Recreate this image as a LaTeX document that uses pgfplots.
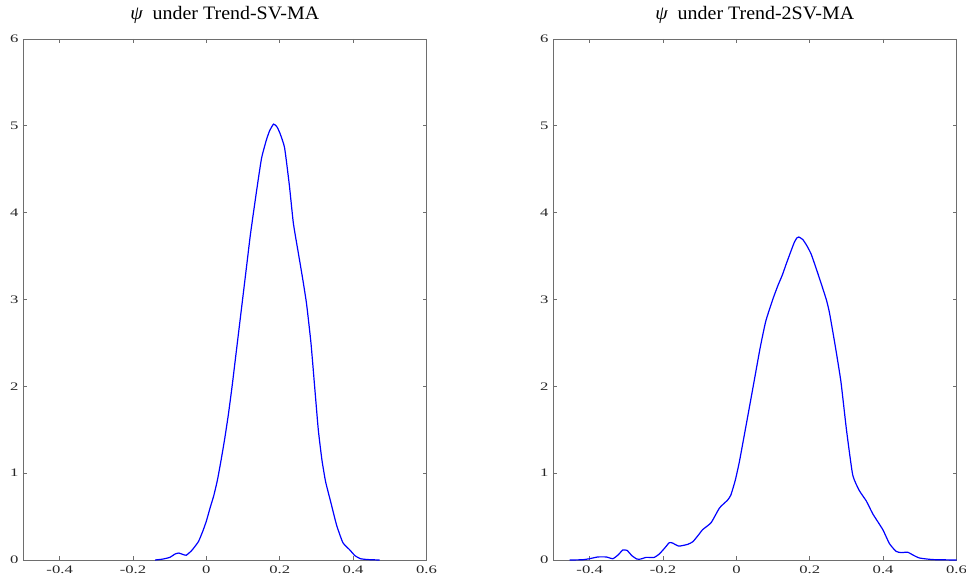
\documentclass[border=0pt]{standalone}
\usepackage{fontspec}
\setmainfont{Liberation Serif}
\newfontfamily\tickfont{Liberation Serif}[FakeStretch=1.45]
\newfontfamily\titlefont{Liberation Serif}[FakeStretch=1.05]
\usepackage{pgfplots}
\pgfplotsset{compat=1.18}
\definecolor{axgray}{RGB}{110,110,110}
\definecolor{txt}{RGB}{38,38,38}
\pgfplotsset{
  mystyle/.style={
    scale only axis, width=403.5pt, height=521pt,
    xmin=-0.5, xmax=0.6, ymin=0, ymax=6,
    xtick={-0.4,-0.2,0,0.2,0.4,0.6},
    xticklabels={-0.4,-0.2,0,0.2,0.4,0.6},
    ytick={0,1,2,3,4,5,6},
    yticklabels={0,1,2,3,4,5,6},
    tick align=inside, major tick length=4pt,
    axis line style={axgray, line width=0.9pt},
    every tick/.style={axgray, line width=0.9pt},
    ticklabel style={font=\tickfont\fontsize{11.5}{13}\selectfont, text=txt},
    xticklabel style={yshift=-2pt},
    yticklabel style={xshift=-1pt},
    title style={at={(0.5,1)}, anchor=base, yshift=13pt, font=\titlefont\fontsize{19}{21}\selectfont, text=black},
    clip=false,
  }
}
\begin{document}
\begin{tikzpicture}[x=1pt,y=1pt]
\path[use as bounding box] (0,0) rectangle (966,579);
\begin{axis}[mystyle, at={(23pt,19pt)}, anchor=south west,
  title={{\itshape ψ}\ \ under Trend-SV-MA}]
\addplot[blue, line width=1.2pt, smooth, tension=0.3] coordinates {
(-0.14,0) (-0.12,0.01) (-0.10,0.03) (-0.085,0.07) (-0.075,0.08) (-0.065,0.065)
(-0.055,0.055) (-0.04,0.11) (-0.022,0.21) (-0.01,0.33) (0,0.45) (0.01,0.6)
(0.02,0.74) (0.03,0.92) (0.04,1.15) (0.05,1.4) (0.06,1.68) (0.07,2.0) (0.08,2.35)
(0.09,2.7) (0.10,3.05) (0.11,3.4) (0.12,3.75) (0.135,4.2) (0.15,4.62) (0.163,4.83)
(0.172,4.94) (0.183,5.02) (0.192,4.99) (0.2,4.92) (0.213,4.75) (0.226,4.32)
(0.237,3.88) (0.25,3.55) (0.262,3.25) (0.273,2.95) (0.285,2.5) (0.295,2.0)
(0.305,1.5) (0.315,1.15) (0.325,0.9) (0.34,0.65) (0.355,0.4) (0.372,0.2)
(0.39,0.12) (0.405,0.05) (0.42,0.015) (0.44,0.005) (0.472,0)
};
\end{axis}
\begin{axis}[mystyle, at={(553pt,19pt)}, anchor=south west,
  title={{\itshape ψ}\ \ under Trend-2SV-MA}]
\addplot[blue, line width=1.2pt, smooth, tension=0.3] coordinates {
(-0.455,0) (-0.42,0.003) (-0.40,0.015) (-0.378,0.035) (-0.355,0.035) (-0.337,0.015)
(-0.322,0.06) (-0.31,0.115) (-0.298,0.11) (-0.285,0.05) (-0.272,0.012) (-0.262,0.01)
(-0.246,0.03) (-0.224,0.03) (-0.21,0.07) (-0.195,0.14) (-0.183,0.2) (-0.174,0.195)
(-0.157,0.16) (-0.133,0.18) (-0.119,0.21) (-0.105,0.28) (-0.092,0.35) (-0.069,0.43)
(-0.046,0.6) (-0.024,0.69) (-0.015,0.75) (-0.003,0.92) (0.008,1.13) (0.022,1.45)
(0.035,1.75) (0.05,2.1) (0.065,2.45) (0.08,2.75) (0.099,3.0) (0.113,3.16)
(0.125,3.28) (0.135,3.4) (0.148,3.55) (0.158,3.66) (0.165,3.71) (0.170,3.72)
(0.181,3.69) (0.192,3.62) (0.204,3.52) (0.222,3.3) (0.245,3.0) (0.254,2.84)
(0.27,2.45) (0.285,2.05) (0.30,1.5) (0.317,0.98) (0.335,0.8) (0.354,0.68)
(0.372,0.53) (0.399,0.35) (0.417,0.19) (0.435,0.10) (0.449,0.085) (0.467,0.09)
(0.481,0.058) (0.499,0.023) (0.535,0.005) (0.6,0)
};
\end{axis}
\end{tikzpicture}
\end{document}
